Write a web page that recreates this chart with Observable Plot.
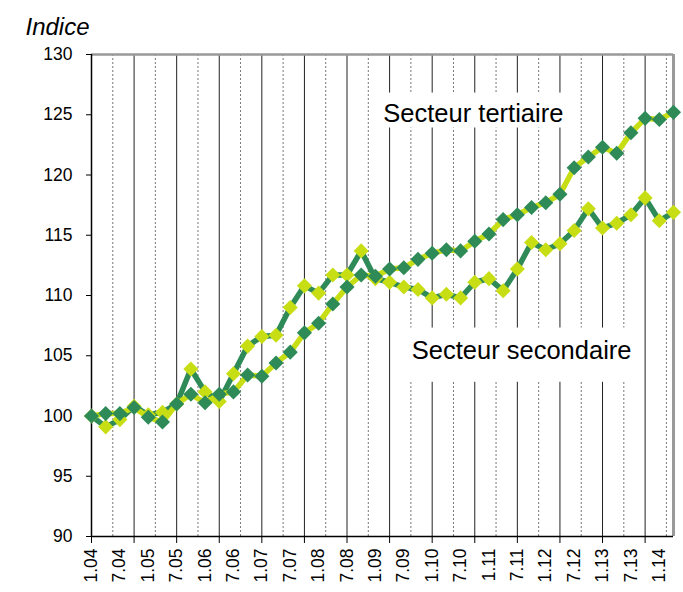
<!DOCTYPE html>
<html>
<head>
<meta charset="utf-8">
<script src="https://cdn.jsdelivr.net/npm/d3@7"></script>
<script src="https://cdn.jsdelivr.net/npm/@observablehq/plot@0.6"></script>
<style>
  html, body { margin: 0; padding: 0; background: #fff; }
</style>
</head>
<body>
<div id="chart"></div>
<script>
const categories = ["1.04","4.04","7.04","10.04","1.05","4.05","7.05","10.05","1.06","4.06","7.06","10.06",
  "1.07","4.07","7.07","10.07","1.08","4.08","7.08","10.08","1.09","4.09","7.09","10.09",
  "1.10","4.10","7.10","10.10","1.11","4.11","7.11","10.11","1.12","4.12","7.12","10.12",
  "1.13","4.13","7.13","10.13","1.14","4.14"];
const tertiaire = [100.0,100.2,100.2,100.7,99.9,99.5,101.0,101.8,101.1,101.8,102.0,103.4,
  103.3,104.4,105.3,106.9,107.7,109.3,110.7,111.7,111.6,112.2,112.3,113.0,
  113.5,113.8,113.7,114.5,115.1,116.3,116.7,117.3,117.7,118.4,120.6,121.5,
  122.3,121.8,123.5,124.7,124.6,125.2];
const secondaire = [100.0,99.1,99.7,100.8,100.1,100.3,101.0,103.9,102.0,101.2,103.5,105.8,
  106.6,106.7,109.0,110.8,110.2,111.7,111.7,113.7,111.4,111.1,110.7,110.5,
  109.8,110.1,109.8,111.1,111.4,110.4,112.2,114.4,113.8,114.3,115.4,117.2,
  115.6,116.0,116.7,118.1,116.2,116.9];
const yTicks = [90,95,100,105,110,115,120,125,130];
const labelTicks = [0,2,4,6,8,10,12,14,16,18,20,22,24,26,28,30,32,34,36,38,40];
const gridMajor = [3,6,9,12,15,18,21,24,27,30,33,36,39];
const gridMinor = [1.5,4.5,7.5,10.5,13.5,16.5,19.5,22.5,25.5,28.5,31.5,34.5,37.5,40.5];
const annotations = [
  {label: "Secteur tertiaire", x: 26.9, y: 125.1, x1: 20.0, x2: 34.1, y1: 123.9, y2: 126.8},
  {label: "Secteur secondaire", x: 30.3, y: 105.4, x1: 21.9, x2: 38.9, y1: 102.8, y2: 107.3}
];
const title = "Indice";

const dark = "#2E8B57";
const yellow = "#C8DE14";

const rows = categories.map((c, i) => ({i, cat: c, t: tertiaire[i], s: secondaire[i]}));

const chart = Plot.plot({
  width: 683,
  height: 592,
  marginLeft: 91,
  marginRight: 10,
  marginTop: 54,
  marginBottom: 56,
  style: {fontFamily: "'Liberation Sans', Arial, sans-serif", fontSize: "17.5px", background: "white", color: "black"},
  x: {type: "linear", domain: [0, 41]},
  y: {domain: [90, 130]},
  marks: [
    Plot.ruleX(gridMinor, {stroke: "#777", strokeWidth: 1, strokeDasharray: "2,2"}),
    Plot.ruleX(gridMajor, {stroke: "#222", strokeWidth: 1}),
    Plot.rect(annotations, {x1: "x1", x2: "x2", y1: "y1", y2: "y2", fill: "white"}),
    Plot.ruleY([130], {stroke: "#999", strokeWidth: 2.5}),
    Plot.ruleX([41], {stroke: "#999", strokeWidth: 3}),
    Plot.axisY({ticks: yTicks, tickSize: 5, tickPadding: 14, label: null}),
    Plot.axisX({ticks: gridMajor.concat([0]), tickSize: 7, tickFormat: () => "", label: null}),
    Plot.axisX({ticks: labelTicks, tickSize: 0, tickRotate: -90, tickPadding: 12, tickFormat: i => categories[i], label: null}),
    Plot.ruleX([0], {stroke: "black", strokeWidth: 1.5}),
    Plot.ruleY([90], {stroke: "black", strokeWidth: 1.5}),
    Plot.line(rows, {x: "i", y: "s", stroke: dark, strokeWidth: 5.5}),
    Plot.dot(rows, {x: "i", y: "s", symbol: "diamond2", r: 6.8, fill: yellow, stroke: null}),
    Plot.line(rows, {x: "i", y: "t", stroke: yellow, strokeWidth: 5.5}),
    Plot.dot(rows, {x: "i", y: "t", symbol: "diamond2", r: 6.8, fill: dark, stroke: null}),
    Plot.text(annotations, {x: "x", y: "y", text: "label", fontSize: 25.5, fill: "black"}),
    Plot.text([title], {frameAnchor: "top-left", dx: -66, dy: -37, textAnchor: "start", fontStyle: "italic", fontSize: 24, fill: "black"})
  ]
});
document.getElementById("chart").appendChild(chart);
</script>
</body>
</html>
